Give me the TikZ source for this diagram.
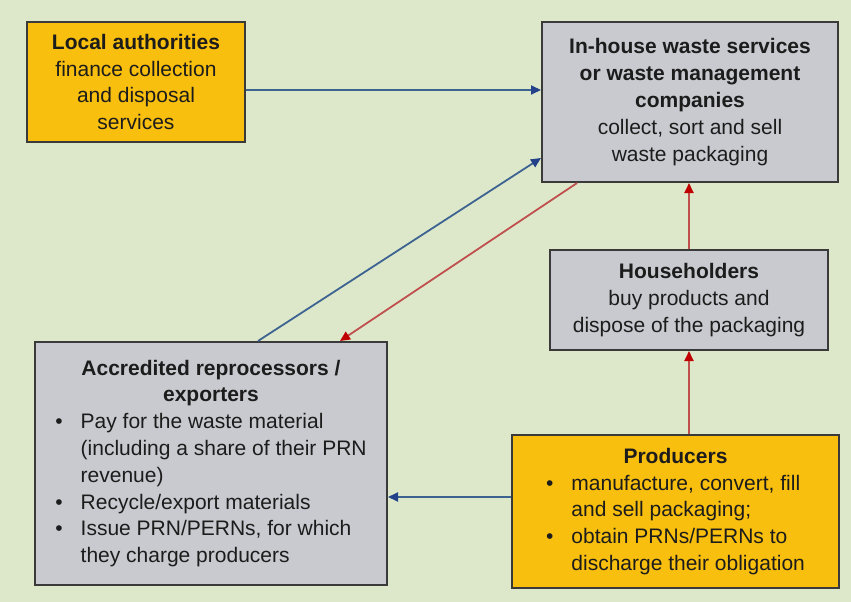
\documentclass[tikz,border=0pt]{standalone}
\usepackage{fontspec}
\setmainfont{Liberation Sans}
\usetikzlibrary{arrows.meta}
\definecolor{bggreen}{HTML}{DDE8CB}
\definecolor{boxgray}{HTML}{C9CACF}
\definecolor{boxorange}{HTML}{F9BF0E}
\definecolor{edgegray}{HTML}{3A3A3A}
\definecolor{txt}{HTML}{1C1C1C}
\definecolor{lineblue}{HTML}{3D6491}
\definecolor{tipblue}{HTML}{24428A}
\definecolor{linered}{HTML}{C0504D}
\definecolor{tipred}{HTML}{C00000}
\tikzset{
  box/.style={draw=edgegray, line width=2pt, rectangle, inner sep=0pt, text=txt,
    font=\fontsize{21}{26.8}\selectfont, align=center},
  graybox/.style={box, fill=boxgray},
  orangebox/.style={box, fill=boxorange},
  bluearrow/.style={draw=lineblue, line width=1.8pt, -{Triangle[length=10pt,width=9pt,fill=tipblue,color=tipblue]}},
  redarrow/.style={draw=linered, line width=1.8pt, -{Triangle[length=10pt,width=9pt,fill=tipred,color=tipred]}}
}
\begin{document}
\begin{tikzpicture}[x=1pt,y=-1pt]
\useasboundingbox (0,0) rectangle (851,602);
\fill[bggreen] (0,0) rectangle (851,602);

\node[orangebox, minimum width=218pt, minimum height=120pt] (local) at (136,82)
  {\textbf{Local authorities}\\finance collection\\and disposal\\services};
\node[graybox, minimum width=296pt, minimum height=160pt] (inhouse) at (690,102)
  {\textbf{In-house waste services}\\\textbf{or waste management}\\\textbf{companies}\\collect, sort and sell\\waste packaging};
\node[graybox, minimum width=278pt, minimum height=100pt] (house) at (689,300)
  {\textbf{Householders}\\buy products and\\dispose of the packaging};
\node[orangebox, minimum width=327pt, minimum height=153pt] (prod) at (675.5,511.5)
  {\begin{tabular}{@{}l@{\hspace{18pt}}l@{}}
    \multicolumn{2}{c}{\bfseries Producers}\\
    \textbullet & manufacture, convert, fill\\
     & and sell packaging;\\
    \textbullet & obtain PRNs/PERNs to\\
     & discharge their obligation
  \end{tabular}};
\node[graybox, minimum width=352pt, minimum height=243pt] (accr) at (211,463.5)
  {\begin{tabular}{@{}l@{\hspace{18pt}}l@{}}
    \multicolumn{2}{c}{\bfseries Accredited reprocessors /}\\
    \multicolumn{2}{c}{\bfseries exporters}\\
    \textbullet & Pay for the waste material\\
     & (including a share of their PRN\\
     & revenue)\\
    \textbullet & Recycle/export materials\\
    \textbullet & Issue PRN/PERNs, for which\\
     & they charge producers
  \end{tabular}};

\draw[bluearrow] ([yshift=-8pt]local.east) -- ([yshift=-8pt]local.east -| inhouse.west);
\draw[bluearrow] ([xshift=47pt]accr.north) -- ([yshift=-56pt]inhouse.west);
\draw[redarrow] ([xshift=-113pt]inhouse.south) -- ([xshift=129pt]accr.north);
\draw[redarrow] (house.north) -- (house.north |- inhouse.south);
\draw[redarrow] (house.south |- prod.north) -- (house.south);
\draw[bluearrow] ([yshift=14.5pt]prod.west) -- ([yshift=14.5pt]prod.west -| accr.east);
\end{tikzpicture}
\end{document}
